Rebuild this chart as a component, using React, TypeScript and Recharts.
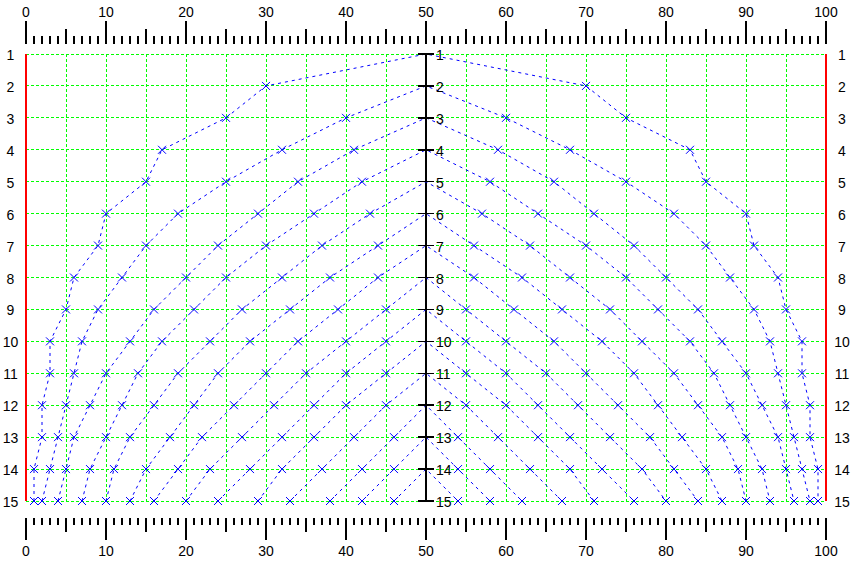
import { ScatterChart, Scatter, XAxis, YAxis, ReferenceLine, CartesianGrid } from "recharts";

const FONT = "'Liberation Sans', Arial, sans-serif";
const BLUE = "#0000ff";
const GREEN = "#00ff00";

const rows = [1, 2, 3, 4, 5, 6, 7, 8, 9, 10, 11, 12, 13, 14, 15];
const xMajor = [0, 10, 20, 30, 40, 50, 60, 70, 80, 90, 100];
const xMinor = Array.from({ length: 101 }, (_, i) => i);
const gridX = [5, 10, 15, 20, 25, 30, 35, 40, 45, 55, 60, 65, 70, 75, 80, 85, 90, 95];
const apexX = 50;

// left side x of each curve, rows 2..15, outer curve first
const leftX: number[][] = [
  [30],
  [25, 40],
  [17, 32, 41],
  [15, 25, 34, 42],
  [10, 19, 29, 36, 43],
  [9, 15, 24, 30, 37, 44],
  [6, 12, 20, 25, 32, 38, 44],
  [5, 9, 16, 21, 27, 33, 39, 45],
  [3, 7, 13, 17, 23, 28, 34, 40, 45],
  [3, 6, 10, 14, 19, 24, 30, 35, 40, 45],
  [2, 5, 8, 12, 16, 21, 26, 31, 36, 40, 45],
  [2, 4, 6, 10, 13, 18, 22, 27, 32, 36, 41, 46],
  [1, 3, 5, 8, 11, 15, 19, 23, 28, 32, 37, 42, 46],
  [1, 2, 4, 7, 10, 13, 16, 20, 24, 29, 33, 38, 42, 46],
];

// right side x of each curve, rows 2..15, outer curve first
const rightX: number[][] = [
  [70],
  [75, 60],
  [83, 68, 59],
  [85, 75, 66, 58],
  [90, 81, 71, 64, 57],
  [91, 85, 76, 70, 63, 56],
  [94, 88, 80, 75, 68, 62, 56],
  [95, 91, 84, 79, 73, 67, 61, 55],
  [97, 93, 87, 83, 77, 72, 66, 60, 55],
  [97, 94, 90, 86, 81, 76, 70, 65, 60, 55],
  [98, 95, 92, 88, 84, 79, 74, 69, 64, 60, 55],
  [98, 96, 94, 90, 87, 82, 78, 73, 68, 64, 59, 54],
  [99, 97, 95, 92, 89, 85, 81, 77, 72, 68, 63, 58, 54],
  [99, 98, 96, 93, 90, 87, 84, 80, 76, 71, 67, 62, 58, 54],
];

const curves = rows.slice(0, 14).map((k) => {
  const pts: { x: number; y: number; apex?: boolean }[] = [];
  for (let n = 15; n > k; n--) pts.push({ x: leftX[n - 2][k - 1], y: n });
  pts.push({ x: apexX, y: k, apex: true });
  for (let n = k + 1; n <= 15; n++) pts.push({ x: rightX[n - 2][k - 1], y: n });
  return pts;
});

const centerTicks = rows.map((r) => ({ x: apexX, y: r }));

// library scale may be a plain d3 function or an object with map()
const toPx = (scale: any, v: number) =>
  typeof scale === "function" ? scale(v) : scale && typeof scale.map === "function" ? scale.map(v) : NaN;

const Cross = (p: any) => {
  if (p.payload?.apex) return <g />;
  const { cx, cy } = p;
  return (
    <g stroke={BLUE} strokeWidth={1}>
      <line x1={cx - 4} y1={cy - 4} x2={cx + 4} y2={cy + 4} />
      <line x1={cx - 4} y1={cy + 4} x2={cx + 4} y2={cy - 4} />
    </g>
  );
};

const CenterTick = (p: any) => (
  <g>
    <line
      x1={p.cx - 8}
      x2={p.cx + 8}
      y1={p.cy}
      y2={p.cy}
      stroke="#000"
      strokeWidth={1.5}
      shapeRendering="crispEdges"
    />
    <text x={p.cx + 10} y={p.cy + 6} fontSize={14} fontFamily={FONT} fill="#000">
      {p.payload.y}
    </text>
  </g>
);

const tickLen = (v: number) => (v % 10 === 0 ? 23 : v % 5 === 0 ? 15 : 8);

const TopTick = (p: any) => {
  const v = p.payload.value;
  return (
    <g>
      <line
        x1={p.x}
        x2={p.x}
        y1={44 - tickLen(v)}
        y2={44}
        stroke="#000"
        strokeWidth={1.5}
        shapeRendering="crispEdges"
      />
      {xMajor.includes(v) && (
        <text x={p.x} y={17} textAnchor="middle" fontSize={14} fontFamily={FONT} fill="#000">
          {v}
        </text>
      )}
    </g>
  );
};

const BottomTick = (p: any) => {
  const v = p.payload.value;
  return (
    <g>
      <line
        x1={p.x}
        x2={p.x}
        y1={518}
        y2={518 + tickLen(v) - 1}
        stroke="#000"
        strokeWidth={1.5}
        shapeRendering="crispEdges"
      />
      {xMajor.includes(v) && (
        <text x={p.x} y={556} textAnchor="middle" fontSize={14} fontFamily={FONT} fill="#000">
          {v}
        </text>
      )}
    </g>
  );
};

const SideTick = (labelX: number) => (p: any) => (
  <text x={labelX} y={p.y + 6} textAnchor="middle" fontSize={14} fontFamily={FONT} fill="#000">
    {p.payload.value}
  </text>
);

export default function App() {
  return (
    <div style={{ position: "absolute", left: 0, top: 0, background: "#fff" }}>
      <ScatterChart width={853} height={563} margin={{ top: 0, right: 0, bottom: 0, left: 0 }}>
        <CartesianGrid
          stroke={GREEN}
          strokeDasharray="3 2"
          shapeRendering="crispEdges"
          horizontal
          vertical
          verticalCoordinatesGenerator={({ xAxis }: any) =>
            gridX.map((v) => toPx(xAxis?.scale, v)).filter((c) => Number.isFinite(c))
          }
        />
        <XAxis
          dataKey="x"
          type="number"
          domain={[0, 100]}
          ticks={xMinor}
          interval={0}
          height={62}
          axisLine={false}
          tickLine={false}
          tick={<BottomTick />}
        />
        <XAxis
          xAxisId="top"
          dataKey="x"
          orientation="top"
          type="number"
          domain={[0, 100]}
          ticks={xMinor}
          interval={0}
          height={54}
          axisLine={false}
          tickLine={false}
          tick={<TopTick />}
        />
        <YAxis
          dataKey="y"
          type="number"
          domain={[1, 15]}
          reversed
          ticks={rows}
          interval={0}
          width={26}
          axisLine={{ stroke: "#ff0000", strokeWidth: 2 }}
          tickLine={false}
          tick={SideTick(10.5)}
        />
        <YAxis
          yAxisId="right"
          dataKey="y"
          orientation="right"
          type="number"
          domain={[1, 15]}
          reversed
          ticks={rows}
          interval={0}
          width={27}
          axisLine={{ stroke: "#ff0000", strokeWidth: 2 }}
          tickLine={false}
          tick={SideTick(842)}
        />
        <ReferenceLine x={apexX} stroke="#000" strokeWidth={1.5} shapeRendering="crispEdges" />
        {curves.map((pts, i) => (
          <Scatter
            key={i}
            data={pts}
            fill={BLUE}
            line={{ stroke: BLUE, strokeWidth: 1, strokeDasharray: "3 4" }}
            lineType="joint"
            shape={<Cross />}
            isAnimationActive={false}
          />
        ))}
        <Scatter
          data={centerTicks}
          xAxisId="top"
          yAxisId="right"
          shape={<CenterTick />}
          isAnimationActive={false}
        />
      </ScatterChart>
    </div>
  );
}
